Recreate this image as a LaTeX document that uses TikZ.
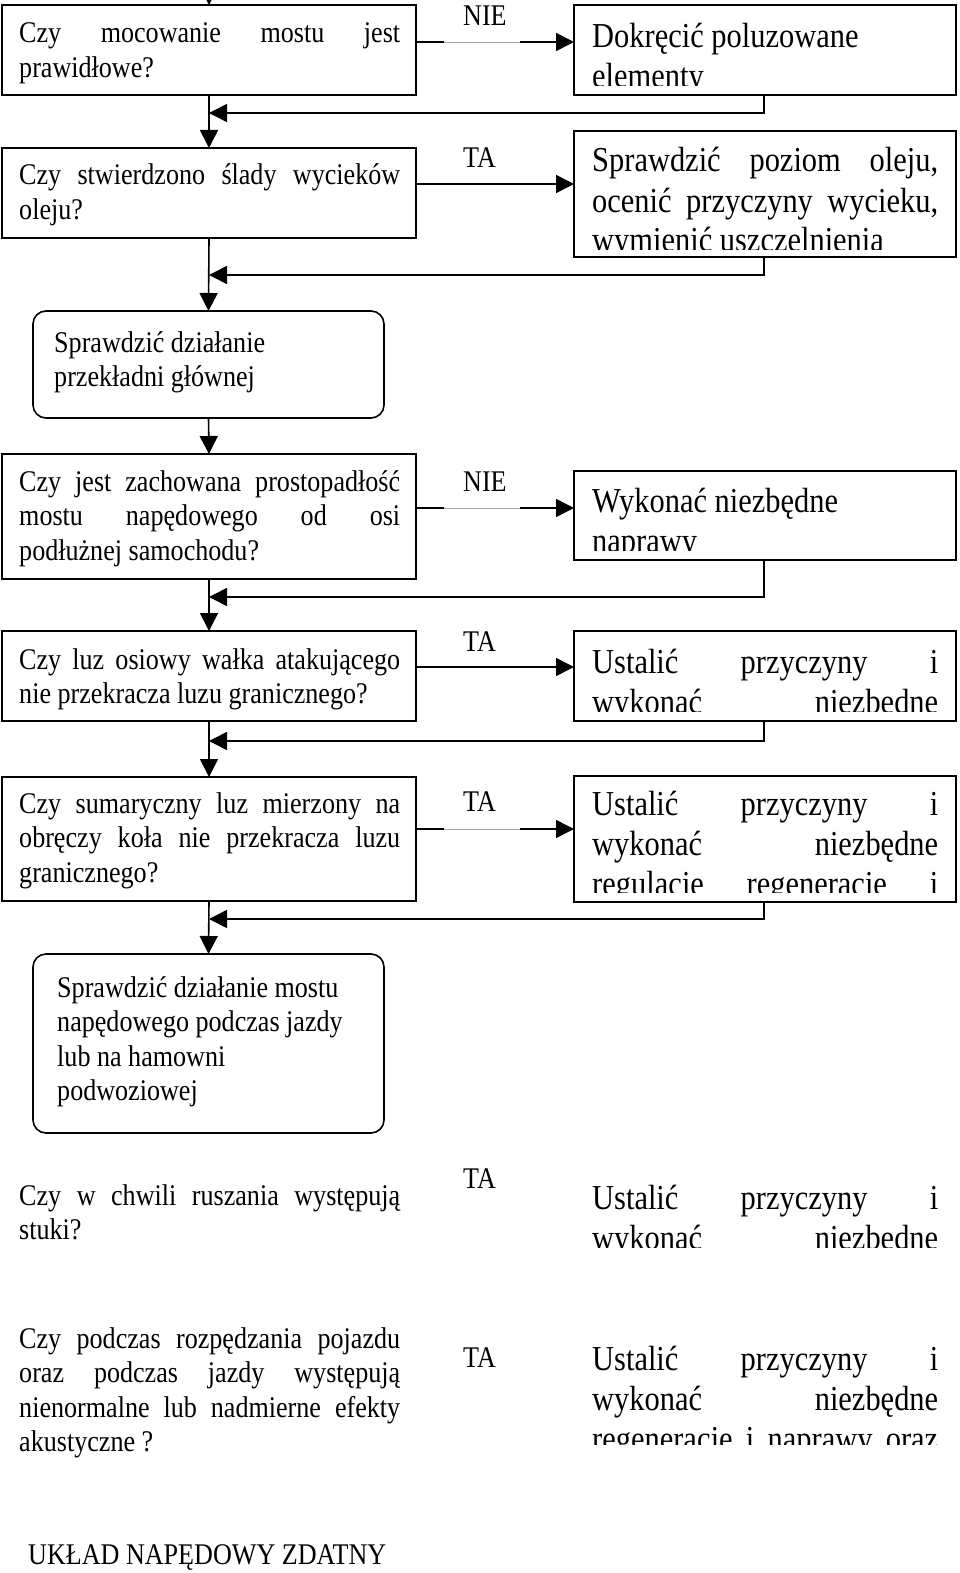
\documentclass[tikz,border=0pt]{standalone}
\usepackage{fontspec}
\setmainfont{Liberation Serif}[FakeStretch=0.87]
\usetikzlibrary{arrows.meta}
\newcommand\Jl[2]{\hbox to #1{\spaceskip=\fontdimen2\font plus 1fil\relax #2}}
\newcommand\Ll[1]{\hbox{#1}}
\begin{document}
\begin{tikzpicture}[x=1pt,y=-1pt,
  box/.style={draw, line width=1.6pt, inner sep=0pt, outer sep=0pt, anchor=north west},
  rbox/.style={box, rounded corners=13pt},
  lt/.style={font=\fontsize{30pt}{34.5pt}\selectfont, inner sep=0pt, anchor=base west},
  rt/.style={font=\fontsize{35pt}{40pt}\selectfont, inner sep=0pt, anchor=base west},
  lab/.style={font=\fontsize{30pt}{34.5pt}\selectfont, inner sep=0pt, anchor=base west},
  arr/.style={line width=1.6pt, -{Triangle[length=18pt,width=18pt]}},
  fadew/.style={white, line width=3pt},
  fadeg/.style={black!35, line width=0.8pt}
]
\fill[white] (0,0) rectangle (960,1573);
\useasboundingbox (0,0) rectangle (960,1573);

% coordinates
\coordinate (fx) at (764,0);
\coordinate (a1) at (0,42);
\coordinate (a2) at (0,184);
\coordinate (a4) at (0,508);
\coordinate (a5) at (0,667);
\coordinate (a6) at (0,829);
\coordinate (j1) at (209,113);
\coordinate (j2) at (209,275);
\coordinate (j3) at (209,597);
\coordinate (j4) at (209,741);
\coordinate (j5) at (209,919);
\coordinate (top) at (209,-40);

% boxes
\node[box, minimum width=414pt, minimum height=90pt] (b1) at (2,5) {};
\node[box, minimum width=382pt, minimum height=90pt] (r1) at (574,5) {};
\node[box, minimum width=414pt, minimum height=90pt] (b2) at (2,148) {};
\node[box, minimum width=382pt, minimum height=126pt] (r2) at (574,131) {};
\node[rbox, minimum width=351pt, minimum height=107pt] (b3) at (33,311) {};
\node[box, minimum width=414pt, minimum height=125pt] (b4) at (2,454) {};
\node[box, minimum width=382pt, minimum height=89pt] (r3) at (574,471) {};
\node[box, minimum width=414pt, minimum height=90pt] (b5) at (2,631) {};
\node[box, minimum width=382pt, minimum height=90pt] (r4) at (574,631) {};
\node[box, minimum width=414pt, minimum height=124pt] (b6) at (2,777) {};
\node[box, minimum width=382pt, minimum height=126pt] (r5) at (574,776) {};
\node[rbox, minimum width=351pt, minimum height=179pt] (b7) at (33,954) {};

% left texts
\node[lt] (t1) at (19,43) {\vtop{\Jl{381pt}{Czy mocowanie mostu jest}\Ll{prawidłowe?}}};
\node[lt] (t2) at (19,185) {\vtop{\Jl{381pt}{Czy stwierdzono ślady wycieków}\Ll{oleju?}}};
\node[lt] (t3) at (54,352) {\vtop{\Ll{Sprawdzić działanie}\Ll{przekładni głównej}}};
\node[lt] (t4) at (19,491) {\vtop{\Jl{381pt}{Czy jest zachowana prostopadłość}\Jl{381pt}{mostu napędowego od osi}\Ll{podłużnej samochodu?}}};
\node[lt] (t5) at (19,669) {\vtop{\Jl{381pt}{Czy luz osiowy wałka atakującego}\Ll{nie przekracza luzu granicznego?}}};
\node[lt] (t6) at (19,813) {\vtop{\Jl{381pt}{Czy sumaryczny luz mierzony na}\Jl{381pt}{obręczy koła nie przekracza luzu}\Ll{granicznego?}}};
\node[lt] (t7) at (57,997) {\vtop{\Ll{Sprawdzić działanie mostu}\Ll{napędowego podczas jazdy}\Ll{lub na hamowni}\Ll{podwoziowej}}};
\node[lt] (t8) at (19,1205) {\vtop{\Jl{381pt}{Czy w chwili ruszania występują}\Ll{stuki?}}};
\begin{scope}
\clip (0,1300) rectangle (399,1480);
\node[lt] (t9) at (19,1348) {\vtop{\Jl{381pt}{Czy podczas rozpędzania pojazdu}\Jl{381pt}{oraz podczas jazdy występują}\Jl{381pt}{nienormalne lub nadmierne efekty}\Ll{akustyczne ?}}};
\end{scope}
\node[lt] (t10) at (28,1564) {UKŁAD NAPĘDOWY ZDATNY};

% labels
\node[lab] (l1) at (463,26) {NIE};
\node[lab] (l2) at (463,168) {TA};
\node[lab] (l4) at (463,491) {NIE};
\node[lab] (l5) at (463,651) {TA};
\node[lab] (l6) at (463,811) {TA};
\node[lab] (l8) at (463,1188) {TA};
\node[lab] (l9) at (463,1367) {TA};

% right texts (clipped)
\begin{scope}\clip (574,5) rectangle (956,86);
\node[rt] (u1) at (592,48) {\vtop{\Ll{Dokręcić poluzowane}\Ll{elementy}}};
\end{scope}
\begin{scope}\clip (574,131) rectangle (956,249);
\node[rt] (u2) at (592,172) {\vtop{\Jl{346pt}{Sprawdzić poziom oleju,}\Jl{346pt}{ocenić przyczyny wycieku,}\Ll{wymienić uszczelnienia}}};
\end{scope}
\begin{scope}\clip (574,471) rectangle (956,550);
\node[rt] (u3) at (592,512) {\vtop{\Ll{Wykonać niezbędne}\Ll{naprawy}}};
\end{scope}
\begin{scope}\clip (574,631) rectangle (956,711);
\node[rt] (u4) at (592,673) {\vtop{\Jl{346pt}{Ustalić przyczyny i}\Jl{346pt}{wykonać niezbędne}}};
\end{scope}
\begin{scope}\clip (574,776) rectangle (956,892);
\node[rt] (u5) at (592,815) {\vtop{\Jl{346pt}{Ustalić przyczyny i}\Jl{346pt}{wykonać niezbędne}\Jl{346pt}{regulacje regeneracje i}}};
\end{scope}
\begin{scope}\clip (574,1160) rectangle (956,1247);
\node[rt] (u6) at (592,1209) {\vtop{\Jl{346pt}{Ustalić przyczyny i}\Jl{346pt}{wykonać niezbędne}}};
\end{scope}
\begin{scope}\clip (574,1320) rectangle (956,1444);
\node[rt] (u7) at (592,1370) {\vtop{\Jl{346pt}{Ustalić przyczyny i}\Jl{346pt}{wykonać niezbędne}\Jl{346pt}{regeneracje i naprawy oraz}}};
\end{scope}

% main flow
\draw[arr] (top) -- (b1.north);
\draw[arr] (b1.south) -- (b2.north);
\draw[arr] (b2.south) -- (b3.north);
\draw[arr] (b3.south) -- (b4.north);
\draw[arr] (b4.south) -- (b5.north);
\draw[arr] (b5.south) -- (b6.north);
\draw[arr] (b6.south) -- (b7.north);

% branches
\draw[arr] (b1.east |- a1) -- (r1.west |- a1);
\draw[arr] (b2.east |- a2) -- (r2.west |- a2);
\draw[arr] (b4.east |- a4) -- (r3.west |- a4);
\draw[arr] (b5.east |- a5) -- (r4.west |- a5);
\draw[arr] (b6.east |- a6) -- (r5.west |- a6);
\draw[fadew] (444,42) -- (520,42); \draw[fadeg] (444,42) -- (520,42);
\draw[fadew] (444,508) -- (520,508); \draw[fadeg] (444,508) -- (520,508);
\draw[fadew] (444,829) -- (520,829); \draw[fadeg] (444,829) -- (520,829);

% feedback
\draw[arr] (r1.south -| fx) |- (j1);
\draw[arr] (r2.south -| fx) |- (j2);
\draw[arr] (r3.south -| fx) |- (j3);
\draw[arr] (r4.south -| fx) |- (j4);
\draw[arr] (r5.south -| fx) |- (j5);
\end{tikzpicture}
\end{document}
